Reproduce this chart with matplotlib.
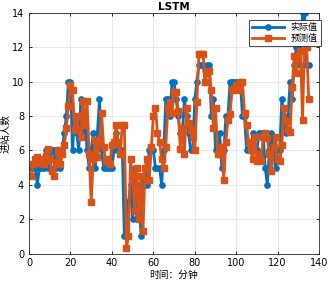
import numpy as np
import matplotlib.pyplot as plt

plt.rcParams['font.family'] = ['DejaVu Sans', 'Noto Sans CJK SC']

# minutes 1..135
t = np.arange(1, 136)
actual = [5, 5, 5, 4, 5, 5, 5, 6, 5, 5, 6, 6, 5, 6, 5, 6, 7, 8, 10, 10,
          6, 8, 7, 6, 9, 7, 8, 6, 5, 6, 7, 5, 7, 9, 6, 5, 5, 5, 5, 5,
          6, 7, 6, 6, 6, 1, 1, 3, 4, 2, 5, 2, 4, 1, 4, 5, 4, 6, 6, 6,
          5, 5, 5, 4, 6, 9, 9, 8, 10, 10, 9, 8, 7, 7, 9, 8, 7, 6, 6, 9,
          10, 11, 11, 11, 10, 11, 11, 8, 9, 6, 6, 7, 5, 6, 8, 8, 10, 10, 10, 10,
          10, 10, 8, 8, 6, 6, 6, 7, 6, 6, 7, 7, 7, 5, 4, 6, 7, 6, 5, 6,
          6, 9, 8, 7, 8, 10, 9, 11, 12, 12, 11, 14, 14, 11, 11]
predicted = [4.5, 5.2, 5.5, 5.6, 5.3, 5.5, 5.2, 5.7, 6.1, 5.5, 4.8, 4.5, 5.3, 6.0, 5.2, 5.8, 6.3, 7.3, 8.6, 9.8,
             9.5, 7.2, 8.0, 7.2, 6.8, 8.9, 7.5, 8.9, 5.8, 3.0, 5.5, 6.6, 5.6, 6.5, 8.2, 6.2, 5.4, 5.5, 5.2, 6.3,
             6.5, 7.5, 6.5, 5.8, 7.5, 7.5, 0.3, 1.0, 5.5, 4.5, 2.5, 5.0, 2.0, 4.5, 1.3, 5.0, 5.5, 4.3, 6.2, 8.0,
             8.5, 7.0, 6.5, 5.5, 5.0, 6.2, 8.5, 8.8, 8.2, 9.4, 9.4, 8.3, 6.1, 7.3, 5.8, 8.5, 7.6, 7.2, 6.8, 6.0,
             8.8, 11.6, 11.6, 11.6, 10.0, 10.5, 10.6, 9.5, 7.3, 8.5, 5.8, 5.8, 6.2, 4.3, 6.5, 7.8, 8.1, 9.5, 9.6, 9.8,
             9.5, 10.0, 10.0, 8.2, 7.5, 6.5, 6.0, 5.5, 6.8, 5.4, 5.8, 5.4, 6.8, 7.0, 6.7, 5.8, 4.8, 6.2, 6.8, 5.5,
             5.4, 6.3, 8.5, 7.7, 7.2, 7.1, 9.7, 11.5, 10.5, 11.5, 11.8, 7.8, 12.5, 12.0, 9.0]

fig = plt.figure(figsize=(3.3, 2.83), dpi=100)
ax = fig.add_axes([0.088, 0.104, 0.879, 0.85])
ax.plot(t, actual, '-o', color='#0072BD', lw=2, ms=3.8, label='实际值')
ax.plot(t, predicted, '-s', color='#D95319', lw=2, ms=4.2, label='预测值')

ax.set_xlim(0, 140)
ax.set_ylim(0, 14)
ax.set_xticks(range(0, 141, 20))
ax.set_yticks(range(0, 15, 2))
ax.tick_params(labelsize=7, direction='in', top=True, right=True, length=2, width=0.6)
ax.grid(True, color='#e6e6e6', lw=0.6)
for s in ax.spines.values():
    s.set_linewidth(0.6)
    s.set_color('#262626')
ax.set_title('LSTM', fontsize=7.5, fontweight='bold', pad=2)
ax.set_xlabel('时间：分钟', fontsize=7, family=['Noto Sans CJK SC'], labelpad=1)
ax.set_ylabel('进站人数', fontsize=7, family=['Noto Sans CJK SC'], labelpad=1)
leg = ax.legend(loc='upper right', bbox_to_anchor=(1.005, 0.97),
                prop={'family': 'Noto Sans CJK SC', 'size': 6.5},
                fancybox=False, framealpha=1, edgecolor='#262626', borderpad=0.3,
                handlelength=3.5, labelspacing=0.2, borderaxespad=0.0)
leg.get_frame().set_linewidth(0.6)

fig.savefig('out.png', dpi=100)
